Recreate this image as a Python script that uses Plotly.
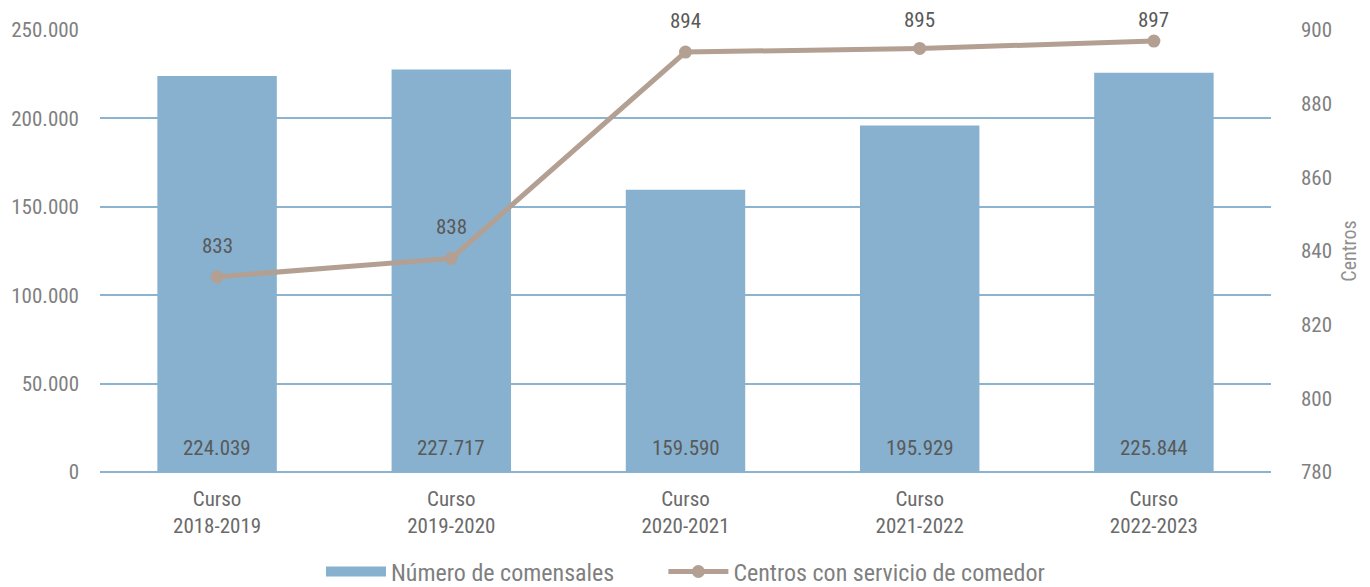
import plotly.graph_objects as go

categories = ["Curso<br>2018-2019", "Curso<br>2019-2020", "Curso<br>2020-2021",
              "Curso<br>2021-2022", "Curso<br>2022-2023"]
comensales = [224039, 227717, 159590, 195929, 225844]
centros = [833, 838, 894, 895, 897]
left_ticks = [0, 50000, 100000, 150000, 200000, 250000]
right_ticks = [780, 800, 820, 840, 860, 880, 900]

def fmt(v):
    return f"{v:,}".replace(",", ".")

FONT = "Roboto Condensed, Liberation Sans Narrow, Arial Narrow, Roboto, sans-serif"
GRID = "#8ab4d0"
BAR = "#87b1cf"
LINE = "#b3a092"

Y2_MIN, Y2_MAX = 780, 900
PLOT_H = 442  # px height of the plotting area

fig = go.Figure()
fig.add_trace(go.Bar(
    x=categories, y=comensales, name="Número de comensales",
    marker=dict(color=BAR, line=dict(width=0)),
    width=0.51, yaxis="y", showlegend=False,
))
for c, v in zip(categories, comensales):
    fig.add_annotation(x=c, y=0, yref="y", text=fmt(v), showarrow=False,
                       yanchor="middle", yshift=24,
                       font=dict(size=21, color="#595959", family=FONT))
# legend entry for the bars (wide swatch like the reference)
fig.add_trace(go.Scatter(
    x=[None], y=[None], name="Número de comensales" + "\u00a0" * 8,
    mode="lines", line=dict(color=BAR, width=16), yaxis="y",
))
fig.add_trace(go.Scatter(
    x=categories, y=centros, name="Centros con servicio de comedor",
    mode="lines+markers", yaxis="y2",
    line=dict(color=LINE, width=5),
    marker=dict(color=LINE, size=13),
))
# line labels ~31 px above the points, pushed down to stay near the top edge
px_per_unit = PLOT_H / (Y2_MAX - Y2_MIN)
LABEL_SHIFT = 31
LABEL_CAP = 902.7
for c, v in zip(categories, centros):
    over = max(0.0, v + LABEL_SHIFT / px_per_unit - LABEL_CAP)
    fig.add_annotation(x=c, y=v, yref="y2", text=str(v), showarrow=False,
                       yanchor="middle", yshift=LABEL_SHIFT - over * px_per_unit,
                       font=dict(size=21, color="#595959", family=FONT))

fig.update_layout(
    width=1362, height=579,
    margin=dict(l=92, r=99, t=22, b=115, autoexpand=False),
    paper_bgcolor="white", plot_bgcolor="white",
    font=dict(family=FONT, color="#808080", size=18),
    showlegend=True,
    legend=dict(orientation="h", x=0.5, xanchor="center",
                y=-0.226, yanchor="middle",
                font=dict(size=24, color="#7f7f7f", family=FONT),
                itemwidth=60, tracegroupgap=0,
                bgcolor="rgba(0,0,0,0)"),
    bargap=0.49,
    xaxis=dict(showgrid=False, showline=False, ticks="",
               tickfont=dict(size=21, color="#6a6a6a", family=FONT),
               ticklabelstandoff=12),
    yaxis=dict(range=[0, 250000], tickvals=left_ticks,
               ticktext=[fmt(v) for v in left_ticks],
               showgrid=True, gridcolor=GRID, gridwidth=2,
               zeroline=True, zerolinecolor=GRID, zerolinewidth=2,
               showline=False, ticks="", ticklabelstandoff=20,
               tickfont=dict(size=21, color="#808080", family=FONT)),
    yaxis2=dict(range=[Y2_MIN, Y2_MAX], tickvals=right_ticks, overlaying="y",
                side="right", showgrid=False, zeroline=False, showline=False,
                ticks="", ticklabelstandoff=29,
                tickfont=dict(size=21, color="#808080", family=FONT),
                title=dict(text="Centros", standoff=10,
                           font=dict(size=20, color="#909090", family=FONT))),
)

fig.write_html("out.html")
